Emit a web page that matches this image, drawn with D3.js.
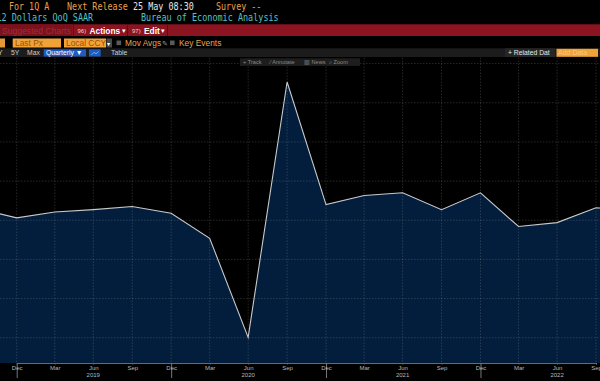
<!DOCTYPE html>
<html><head><meta charset="utf-8">
<script src="https://cdn.jsdelivr.net/npm/d3@7"></script>
<style>html,body{margin:0;padding:0;background:#000;overflow:hidden}svg{display:block}</style>
</head><body><svg id="c" width="600" height="381"></svg>
<script>
// ---- data (US real GDP, QoQ SAAR %, quarter-end dates) ----
const quarterEnds = ["2018-09-30","2018-12-31","2019-03-31","2019-06-30","2019-09-30","2019-12-31",
  "2020-03-31","2020-06-30","2020-09-30","2020-12-31","2021-03-31","2021-06-30","2021-09-30",
  "2021-12-31","2022-03-31","2022-06-30","2022-09-30","2022-12-31"];
const gdpQoQ = [3.0, 0.6, 2.1, 2.7, 3.5, 1.8, -4.6, -29.9, 35.3, 4.0, 6.3, 7.0, 2.7, 7.0, -1.6, -0.6, 3.2, 2.6];
const tickDates = ["2018-12-31","2019-03-31","2019-06-30","2019-09-30","2019-12-31","2020-03-31",
  "2020-06-30","2020-09-30","2020-12-31","2021-03-31","2021-06-30","2021-09-30","2021-12-31",
  "2022-03-31","2022-06-30","2022-09-30"];
const tickMonths = ["Dec","Mar","Jun","Sep","Dec","Mar","Jun","Sep","Dec","Mar","Jun","Sep","Dec","Mar","Jun","Sep"];
const yearTickDates = ["2019-06-30","2020-06-30","2021-06-30","2022-06-30"];
const yearLabels = ["2019","2020","2021","2022"];
const gridValues = [-30,-20,-10,0,10,20,30,40];

const parse = d3.utcParse("%Y-%m-%d");
const svg = d3.select("#c");
const W = 600, plotTop = 57.5, plotBottom = 363;

const x = d3.scaleUtc().domain([parse("2018-12-31"), parse("2022-09-30")]).range([16.7, 596]);
const y = d3.scaleLinear().domain([-36.45, 41.55]).range([plotBottom, plotTop]);

const data = quarterEnds.map((d, i) => ({date: parse(d), v: gdpQoQ[i]}));

// background
svg.append("rect").attr("width", 600).attr("height", 381).attr("fill", "#000");

// ---- plot ----
svg.append("clipPath").attr("id", "clip").append("rect")
  .attr("x", 0).attr("y", plotTop).attr("width", W).attr("height", plotBottom - plotTop);
const plot = svg.append("g").attr("clip-path", "url(#clip)");

plot.append("path").datum(data)
  .attr("fill", "#031e3d")
  .attr("d", d3.area().x(d => x(d.date)).y0(plotBottom).y1(d => y(d.v)));

// grid
const grid = plot.append("g").attr("stroke", "#9a9a9a").attr("stroke-opacity", 0.32)
  .attr("stroke-width", 0.8).attr("stroke-dasharray", "1.5,1.5");
grid.selectAll("line.h").data(gridValues).join("line").attr("class", "h")
  .attr("x1", 0).attr("x2", W).attr("y1", d => y(d)).attr("y2", d => y(d));
grid.selectAll("line.v").data(tickDates).join("line").attr("class", "v")
  .attr("x1", d => x(parse(d))).attr("x2", d => x(parse(d))).attr("y1", plotTop).attr("y2", plotBottom);

plot.append("path").datum(data)
  .attr("fill", "none").attr("stroke", "#c9c9c9").attr("stroke-width", 1.1)
  .attr("d", d3.line().x(d => x(d.date)).y(d => y(d.v)));

// ---- x axis ----
const AXFONT = "6px 'Liberation Sans Narrow','Arial Narrow','Liberation Sans',sans-serif";
const axis = d3.axisBottom(x)
  .tickValues(tickDates.map(parse))
  .tickFormat((d, i) => tickMonths[i])
  .tickSize(1.5).tickPadding(0.8);
const ax = svg.append("g").attr("transform", `translate(0,${plotBottom})`).call(axis);
ax.select(".domain").attr("stroke", "#6a6a6a").attr("stroke-width", 1);
ax.selectAll(".tick line").attr("stroke", "#6a6a6a");
ax.selectAll(".tick text").attr("fill", "#b8b8b8").style("font", AXFONT);
// longer year-boundary ticks at December
ax.selectAll(".tick").filter((d, i) => tickMonths[i] === "Dec").select("line")
  .attr("y2", 15).attr("stroke", "#777");
svg.append("g").selectAll("text").data(yearTickDates).join("text")
  .attr("x", d => x(parse(d))).attr("y", 376.8)
  .attr("text-anchor", "middle").attr("fill", "#b8b8b8")
  .style("font", AXFONT)
  .text((d, i) => yearLabels[i]);

// ---- header ----
const ORANGE = "#eaa24a", TEAL = "#52c1c9";
function mono(tx, ty, s, col) {
  svg.append("text").attr("x", tx).attr("y", ty).attr("fill", col)
    .attr("textLength", s.length * 5.13 - 0.8).attr("lengthAdjust", "spacingAndGlyphs")
    .style("font", "9.6px 'DejaVu Sans Mono','Liberation Mono',monospace").text(s);
}
mono(9, 10.3, "For 1Q A", ORANGE);
mono(67, 10.3, "Next Release", ORANGE);
mono(133, 10.3, "25 May 08:30", "#e6e6e6");
mono(216, 10.3, "Survey --", ORANGE);
mono(-3.5, 20.6, "12 Dollars QoQ SAAR", TEAL);
mono(141, 20.6, "Bureau of Economic Analysis", TEAL);

function txt(tx, ty, s, col, size, weight) {
  return svg.append("text").attr("x", tx).attr("y", ty).attr("fill", col)
    .style("font", `${weight || 400} ${size}px 'Liberation Sans',Arial,sans-serif`).text(s);
}

// red action bar
svg.append("rect").attr("x", 0).attr("y", 24.3).attr("width", W).attr("height", 11.7).attr("fill", "#8b1420");
svg.append("rect").attr("x", 0).attr("y", 24.3).attr("width", 72).attr("height", 11.7).attr("fill", "#7a111c");
txt(2, 33.6, "Suggested Charts", "#a02e3a", 8.6);
[73, 127, 167].forEach(sx => svg.append("rect").attr("x", sx).attr("y", 24.3).attr("width", 1).attr("height", 11.7).attr("fill", "#5e0d15"));
txt(77.5, 33.2, "96)", "#f0d0d0", 6);
txt(89.5, 33.6, "Actions", "#ffffff", 8.4, 700);
txt(122, 33.4, "▾", "#ffffff", 7);
txt(132, 33.2, "97)", "#f0d0d0", 6);
txt(144, 33.6, "Edit", "#ffffff", 8.4, 700);
txt(161, 33.4, "▾", "#ffffff", 7);

// row 4: option boxes
svg.append("rect").attr("x", 0).attr("y", 38.5).attr("width", 5).attr("height", 9).attr("fill", "#e59a3a");
svg.append("rect").attr("x", 12.7).attr("y", 38.5).attr("width", 48.3).attr("height", 9).attr("fill", "#f2a338");
txt(15, 46, "Last Px", "#9a4e10", 8.4);
svg.append("rect").attr("x", 64).attr("y", 38.5).attr("width", 42).attr("height", 9).attr("fill", "#f2a338");
txt(66, 46, "Local CCY", "#9a4e10", 8.4);
svg.append("rect").attr("x", 106.5).attr("y", 38.5).attr("width", 5.5).attr("height", 9).attr("fill", "#4a4a4a");
txt(107.2, 45.6, "▾", "#ffffff", 6);
svg.append("rect").attr("x", 116.5).attr("y", 40.5).attr("width", 4.6).attr("height", 4.6).attr("fill", "#5a5a5a");
txt(125, 46, "Mov Avgs", ORANGE, 8.4);
txt(162, 46, "✎", "#9a9a9a", 7);
svg.append("rect").attr("x", 170).attr("y", 40.5).attr("width", 4.6).attr("height", 4.6).attr("fill", "#5a5a5a");
txt(179, 46, "Key Events", ORANGE, 8.4);

// row 5: range toolbar
svg.append("rect").attr("x", 0).attr("y", 48.3).attr("width", W).attr("height", 8.7).attr("fill", "#1c1c1c");
txt(-2, 55.3, "Y", "#cfcfcf", 6.8);
txt(11, 55.3, "5Y", "#cfcfcf", 6.8);
txt(27, 55.3, "Max", "#cfcfcf", 6.8);
svg.append("rect").attr("x", 43.7).attr("y", 49.3).attr("width", 42.3).attr("height", 7.2).attr("fill", "#1d5cc0");
txt(46, 55.3, "Quarterly ▼", "#ffffff", 6.8);
svg.append("rect").attr("x", 89).attr("y", 49.3).attr("width", 11.7).attr("height", 7.2).attr("fill", "#1d5cc0");
svg.append("path").attr("d", "M91.5,54.8 L94,52.3 L96,53.8 L98.5,51.5").attr("fill", "none").attr("stroke", "#a8c8ff").attr("stroke-width", 0.7);
txt(111, 55.3, "Table", "#cfcfcf", 6.8);
svg.append("rect").attr("x", 505).attr("y", 48.3).attr("width", 50).attr("height", 8.7).attr("fill", "#262626");
txt(508, 55.3, "+ Related Dat", "#e8e8e8", 6.8);
svg.append("rect").attr("x", 556.5).attr("y", 48.8).attr("width", 41.5).attr("height", 8).attr("fill", "#f2a338");
txt(558, 55.4, "Add Data", "#f8c880", 7);

// chart tools strip
svg.append("rect").attr("x", 240).attr("y", 58.3).attr("width", 120).attr("height", 7.6).attr("fill", "#1e1e1e");
txt(243, 64.2, "+ Track", "#8a8a8a", 5.6);
txt(270, 64.2, "⁄ Annotate", "#8a8a8a", 5.6);
txt(304, 64.2, "▥ News", "#8a8a8a", 5.6);
txt(329, 64.2, "⌕ Zoom", "#8a8a8a", 5.6);
</script></body></html>
